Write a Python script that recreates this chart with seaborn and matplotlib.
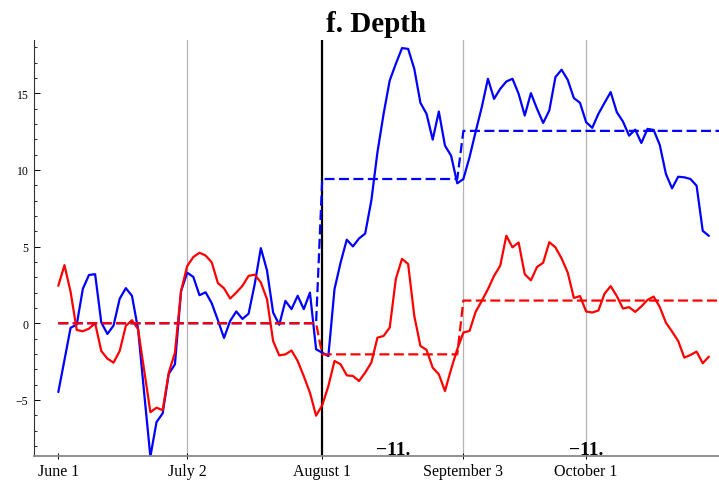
import seaborn as sns
import matplotlib.pyplot as plt
from matplotlib.ticker import MultipleLocator

# Daily series (index = trading day starting June 1)
blue = [-4.49, -2.4, -0.3, -0.09, 2.25, 3.15, 3.2, 0.05, -0.7, -0.15,
        1.6, 2.29, 1.79, -0.4, -4.6, -8.7, -6.45, -5.88, -3.3, -2.68,
        2.1, 3.3, 3.02, 1.83, 2.02, 1.3, 0.2, -0.96, 0.15, 0.77,
        0.28, 0.62, 2.55, 4.9, 3.45, 0.7, -0.1, 1.46, 0.92, 1.79,
        0.92, 2.0, -1.7, -1.92, -2.14, 2.22, 3.97, 5.45, 5.01, 5.53,
        5.85, 8.0, 11.16, 13.66, 15.84, 16.93, 17.95, 17.9, 16.6, 14.38,
        13.66, 11.98, 13.81, 11.59, 10.93, 9.13, 9.41, 10.83, 12.5, 14.1,
        15.95, 14.64, 15.29, 15.77, 15.95, 14.97, 13.55, 15.01, 13.99, 13.07,
        13.88, 16.06, 16.54, 15.88, 14.69, 14.38, 13.12, 12.75, 13.66, 14.38,
        15.08, 13.77, 13.16, 12.24, 12.63, 11.76, 12.68, 12.61, 11.63, 9.74,
        8.8, 9.56, 9.52, 9.41, 8.97, 6.03, 5.7]
red = [2.44, 3.79, 2.05, -0.44, -0.52, -0.35, 0.0, -1.81, -2.31, -2.57,
       -1.81, -0.17, 0.2, -0.39, -3.1, -5.8, -5.51, -5.67, -3.22, -1.92,
       2.11, 3.73, 4.32, 4.6, 4.42, 3.97, 2.62, 2.28, 1.61, 2.0,
       2.44, 3.09, 3.17, 2.66, 1.57, -1.16, -2.1, -2.03, -1.78, -2.46,
       -3.46, -4.53, -6.03, -5.35, -4.1, -2.46, -2.68, -3.4, -3.44, -3.77,
       -3.22, -2.57, -0.94, -0.83, -0.28, 2.9, 4.2, 3.86, 0.48, -1.48,
       -1.74, -2.9, -3.33, -4.42, -3.0, -1.7, -0.61, -0.5, 0.74, 1.46,
       2.22, 3.09, 3.75, 5.71, 4.95, 5.27, 3.2, 2.8, 3.67, 3.95,
       5.29, 4.95, 4.23, 3.31, 1.65, 1.77, 0.77, 0.7, 0.83, 1.93,
       2.42, 1.77, 0.96, 1.05, 0.74, 1.1, 1.52, 1.74, 1.06, 0.04,
       -0.54, -1.16, -2.24, -2.07, -1.85, -2.61, -2.18]
days = list(range(len(blue)))

# period averages (dashed step lines)
step_x = [0, 42, 43, 65, 66, 108]
blue_step = [0, 0, 9.41, 9.41, 12.55, 12.55]
red_step = [0, 0, -2.03, -2.03, 1.48, 1.48]

tick_pos = [0, 21, 43, 66, 86]
tick_labels = ["June 1", "July 2", "August 1", "September 3", "October 1"]
grid_pos = [21, 66, 86]
event_pos = 43
note_pos = [54.5, 86]
note_text = ["\u221211.", "\u221211."]

sns.set_style("white")
plt.rcParams['font.family'] = ['Liberation Serif', 'DejaVu Serif']
plt.rcParams['text.color'] = 'black'
plt.rcParams['xtick.color'] = 'black'
plt.rcParams['ytick.color'] = 'black'

fig = plt.figure(figsize=(7.19, 4.85), dpi=100)
ax = fig.add_axes([0.0473, 0.0584, 0.9527, 0.8571])

for g in grid_pos:
    ax.axvline(g, color="#b4b4b4", lw=0.9, zorder=0)
ax.axvline(event_pos, color="black", lw=1.6, zorder=1)

sns.lineplot(x=days, y=blue, ax=ax, color="blue", lw=1.6, sort=False)
sns.lineplot(x=days, y=red, ax=ax, color="red", lw=1.6, sort=False)
sns.lineplot(x=step_x, y=blue_step, ax=ax, color="blue", lw=1.6, sort=False,
             linestyle=(0, (4.5, 2)))
sns.lineplot(x=step_x, y=red_step, ax=ax, color="red", lw=1.6, sort=False,
             linestyle=(0, (4.5, 2)))

for xp, t in zip(note_pos, note_text):
    ax.text(xp, -8.5, t, ha="center", va="baseline", fontsize=14,
            fontweight="bold", color="black")

ax.set_xlim(-3.96, 107.65)
ax.set_ylim(-8.64, 18.48)
ax.set_xticks(tick_pos)
ax.set_xticklabels(tick_labels, fontsize=11.5, color="black")
ax.set_yticks([-5, 0, 5, 10, 15])
ax.yaxis.set_minor_locator(MultipleLocator(1))
ax.tick_params(axis="y", which="major", direction="in", length=4, width=0.7,
               labelsize=8.5, pad=4, left=True, colors="black")
ax.tick_params(axis="y", which="minor", direction="in", length=2.5,
               width=0.6, left=True, colors="black")
ax.tick_params(axis="x", direction="inout", length=5, width=0.7, pad=3,
               bottom=True, colors="black")

sns.despine(ax=ax, top=True, right=True)
ax.spines["left"].set_color("#333333")
ax.spines["left"].set_linewidth(0.8)
ax.spines["bottom"].set_color("#888888")
ax.spines["bottom"].set_linewidth(1.3)

ax.set_title("f. Depth", fontsize=21, fontweight="bold", pad=6.5,
             color="black")
ax.set_xlabel("")
ax.set_ylabel("")

fig.savefig("out.png", dpi=100)
